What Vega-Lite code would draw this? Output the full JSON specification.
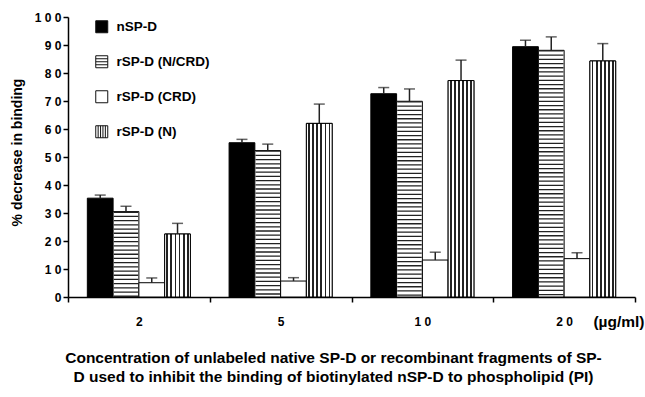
{
  "$schema": "https://vega.github.io/schema/vega-lite/v6.json",
  "width": 567,
  "height": 280,
  "autosize": "none",
  "padding": {"left": 68, "top": 17, "right": 10, "bottom": 100},
  "background": "white",
  "config": {
    "view": {"stroke": null},
    "font": "Liberation Sans",
    "axisY": {
      "tickCount": 12,
      "labelOverlap": false,
      "labelSeparation": 0,
      "grid": false,
      "labelFont": "Liberation Sans",
      "labelFontSize": 12,
      "labelFontWeight": "bold",
      "labelColor": "black",
      "labelPadding": 2,
      "tickSize": 5,
      "tickWidth": 1.5,
      "tickColor": "black",
      "domainColor": "black",
      "domainWidth": 1.5
    }
  },
  "title": {
    "text": ["Concentration of unlabeled native SP-D or recombinant fragments of SP-", "D used to inhibit the binding of biotinylated nSP-D to phospholipid (PI)"],
    "orient": "bottom",
    "anchor": "middle",
    "font": "Liberation Sans",
    "fontSize": 15.5,
    "fontWeight": "bold",
    "color": "black",
    "lineHeight": 19,
    "offset": 21,
    "dx": -18
  },
  "data": {
    "values": [
      {"conc": "2", "series": "nSP-D", "value": 35.3, "upper": 36.4},
      {"conc": "2", "series": "rSP-D (N/CRD)", "value": 30.5, "upper": 32.4},
      {"conc": "2", "series": "rSP-D (CRD)", "value": 5.1, "upper": 6.8},
      {"conc": "2", "series": "rSP-D (N)", "value": 22.5, "upper": 26.3},
      {"conc": "5", "series": "nSP-D", "value": 55.1, "upper": 56.3},
      {"conc": "5", "series": "rSP-D (N/CRD)", "value": 52.3, "upper": 54.6},
      {"conc": "5", "series": "rSP-D (CRD)", "value": 5.7, "upper": 6.9},
      {"conc": "5", "series": "rSP-D (N)", "value": 62.0, "upper": 68.9},
      {"conc": "10", "series": "nSP-D", "value": 72.6, "upper": 74.8},
      {"conc": "10", "series": "rSP-D (N/CRD)", "value": 69.9, "upper": 74.3},
      {"conc": "10", "series": "rSP-D (CRD)", "value": 13.2, "upper": 16.0},
      {"conc": "10", "series": "rSP-D (N)", "value": 77.3, "upper": 84.6},
      {"conc": "20", "series": "nSP-D", "value": 89.4, "upper": 91.7},
      {"conc": "20", "series": "rSP-D (N/CRD)", "value": 88.1, "upper": 92.9},
      {"conc": "20", "series": "rSP-D (CRD)", "value": 13.7, "upper": 15.8},
      {"conc": "20", "series": "rSP-D (N)", "value": 84.3, "upper": 90.5}
    ]
  },
  "encoding": {
    "x": {
      "field": "conc",
      "type": "nominal",
      "sort": ["2", "5", "10", "20"],
      "scale": {"paddingInner": 0, "paddingOuter": 0},
      "axis": {
        "title": "(µg/ml)",
        "titleFont": "Liberation Sans",
        "titleFontSize": 15.5,
        "titleFontWeight": "bold",
        "titleColor": "black",
        "titleAnchor": "end",
        "titleAlign": "right",
        "titleBaseline": "middle",
        "titleX": 576,
        "titleY": 24,
        "labelAngle": 0,
        "labelFont": "Liberation Sans",
        "labelFontSize": 12,
        "labelFontWeight": "bold",
        "labelColor": "black",
        "labelPadding": 14,
        "labelOverlap": false,
        "labelExpr": "join(split(datum.label, ''), ' ')",
        "tickBand": "extent",
        "tickSize": 5,
        "tickWidth": 1.5,
        "tickColor": "black",
        "domainColor": "black",
        "domainWidth": 1.5
      }
    },
    "xOffset": {
      "field": "series",
      "type": "nominal",
      "scale": {"domain": ["nSP-D", "rSP-D (N/CRD)", "rSP-D (CRD)", "rSP-D (N)"], "paddingInner": 0, "paddingOuter": 0.75}
    },
    "y": {
      "field": "value",
      "type": "quantitative",
      "scale": {"domain": [0, 100], "nice": false},
      "axis": {
        "title": "% decrease in  binding",
        "titleFont": "Liberation Sans",
        "titleFontSize": 14,
        "titleFontWeight": "bold",
        "titleColor": "black",
        "titleX": -51,
        "titleY": 135,
        "titleAlign": "center",
        "titleBaseline": "middle",
        "values": [0, 10, 20, 30, 40, 50, 60, 70, 80, 90, 100],
        "tickCount": 12,
        "labelOverlap": false,
        "labelSeparation": 0,
        "labelExpr": "join(split(datum.label, ''), ' ')"
      }
    }
  },
  "layer": [
    {
      "mark": {"type": "bar", "stroke": "black", "strokeWidth": 1},
      "encoding": {
        "fill": {
          "field": "series",
          "type": "nominal",
          "scale": {
            "domain": ["nSP-D", "rSP-D (N/CRD)", "rSP-D (CRD)", "rSP-D (N)"],
            "range": ["black", "white", "white", "white"]
          },
          "legend": {
            "title": null,
            "orient": "none",
            "legendX": 27,
            "legendY": 3,
            "symbolType": "square",
            "symbolSize": 144,
            "symbolStrokeColor": "black",
            "symbolStrokeWidth": 1,
            "symbolOpacity": 1,
            "labelFont": "Liberation Sans",
            "labelFontSize": 13.5,
            "labelFontWeight": "bold",
            "labelColor": "black",
            "labelOffset": 8,
            "rowPadding": 18,
            "encode": {
              "symbols": {
                "update": {
                  "stroke": {"value": "#111"},
                  "strokeWidth": {"value": 1},
                  "opacity": {"value": 1},
                  "shape": [
                    {"test": "datum.value === 'rSP-D (N/CRD)'", "value": "M-1,-1H1V1H-1Z M-1,-0.5H1 M-1,0H1 M-1,0.5H1"},
                    {"test": "datum.value === 'rSP-D (N)'", "value": "M-1,-1H1V1H-1Z M-0.6,-1V1 M-0.2,-1V1 M0.2,-1V1 M0.6,-1V1"},
                    {"value": "square"}
                  ]
                }
              }
            }
          }
        }
      }
    },
    {
      "transform": [{"filter": "datum.series === 'rSP-D (N)'"}],
      "mark": {"type": "bar", "stroke": "black", "strokeWidth": 1, "fill": {"gradient": "linear", "x1": 0, "y1": 0, "x2": 1, "y2": 0, "stops": [
        {"offset": 0, "color": "white"},
        {"offset": 0.065, "color": "white"}, {"offset": 0.065, "color": "#222"}, {"offset": 0.135, "color": "#222"}, {"offset": 0.135, "color": "white"},
        {"offset": 0.225, "color": "white"}, {"offset": 0.225, "color": "#222"}, {"offset": 0.295, "color": "#222"}, {"offset": 0.295, "color": "white"},
        {"offset": 0.385, "color": "white"}, {"offset": 0.385, "color": "#222"}, {"offset": 0.455, "color": "#222"}, {"offset": 0.455, "color": "white"},
        {"offset": 0.545, "color": "white"}, {"offset": 0.545, "color": "#222"}, {"offset": 0.615, "color": "#222"}, {"offset": 0.615, "color": "white"},
        {"offset": 0.705, "color": "white"}, {"offset": 0.705, "color": "#222"}, {"offset": 0.775, "color": "#222"}, {"offset": 0.775, "color": "white"},
        {"offset": 0.865, "color": "white"}, {"offset": 0.865, "color": "#222"}, {"offset": 0.935, "color": "#222"}, {"offset": 0.935, "color": "white"},
        {"offset": 1, "color": "white"}
      ]}},
      "encoding": {}
    },
    {
      "transform": [{"filter": "datum.series === 'rSP-D (N/CRD)'"}],
      "mark": {"type": "rule", "color": "#222", "strokeWidth": 24.5, "strokeDash": [1.3, 2.9], "strokeCap": "butt"},
      "encoding": {
        "y2": {"datum": 0}
      }
    },
    {
      "mark": {"type": "rule", "color": "#222", "strokeWidth": 1.5},
      "encoding": {
        "y2": {"field": "upper"}
      }
    },
    {
      "mark": {"type": "tick", "color": "#222", "orient": "horizontal", "size": 11, "thickness": 1.5},
      "encoding": {
        "y": {
          "field": "upper",
          "type": "quantitative",
          "axis": {
            "title": "% decrease in  binding",
            "titleFont": "Liberation Sans",
            "titleFontSize": 14,
            "titleFontWeight": "bold",
            "titleColor": "black",
            "titleX": -51,
            "titleY": 135,
            "titleAlign": "center",
            "titleBaseline": "middle",
            "values": [0, 10, 20, 30, 40, 50, 60, 70, 80, 90, 100],
            "tickCount": 12,
            "labelOverlap": false,
            "labelSeparation": 0,
            "labelExpr": "join(split(datum.label, ''), ' ')"
          }
        }
      }
    }
  ]
}
